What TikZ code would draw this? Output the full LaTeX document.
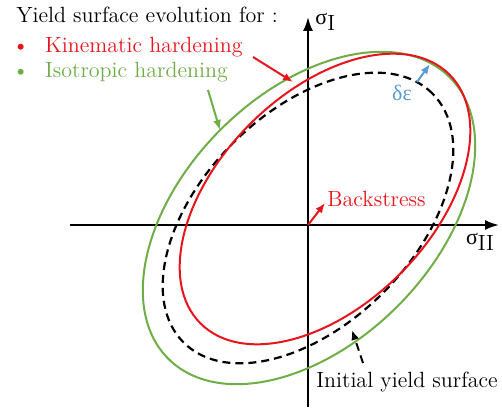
\documentclass[tikz,border=0pt]{standalone}
\usepackage{fontspec}
\newfontfamily\grk{Liberation Serif}
\usetikzlibrary{arrows.meta}
\definecolor{kin}{HTML}{E8141C}
\definecolor{iso}{HTML}{6FAD47}
\definecolor{dstr}{HTML}{5B9BD5}
\begin{document}
\begin{tikzpicture}[x=.5pt,y=.5pt,font=\fontsize{11}{13}\selectfont]
  \useasboundingbox (-308,-182) rectangle (194,225);
  % axes
  \coordinate (o) at (0,0);
  \coordinate (xl) at (-238,0);
  \coordinate (xr) at (191,0);
  \coordinate (yb) at (0,-182);
  \coordinate (yt) at (0,208);
  \draw[-{Latex[length=7pt,width=5pt]},line width=1pt] (xl)--(xr);
  \draw[-{Latex[length=7pt,width=5pt]},line width=1pt] (yb)--(yt);
  \node[anchor=west,inner sep=0pt] (sI) at (7,203){{\grk σ}\raisebox{-.6ex}{I}};
  \node[inner sep=0pt] (sII) at (172,-17){{\grk σ}\raisebox{-.6ex}{II}};
  % yield surfaces
  \draw[iso,line width=1pt,rotate around={45:(1,7)}] (1,7) ellipse [x radius=199,y radius=125];
  \draw[black,line width=1.1pt,dash pattern=on 4pt off 2.5pt,rotate around={45:(0,7)}] (0,7) ellipse [x radius=176,y radius=106];
  \draw[kin,line width=1pt,rotate around={45:(17,26)}] (17,26) ellipse [x radius=176,y radius=106];
  % legend
  \node[anchor=west,inner sep=0pt] (title) at (-292,210){Yield surface evolution for :};
  \node[anchor=west,inner sep=0pt,text=kin] (kinlab) at (-296,178){\textbullet\hspace{8pt}Kinematic hardening};
  \node[anchor=west,inner sep=0pt,text=iso] (isolab) at (-296,153){\textbullet\hspace{8pt}Isotropic hardening};
  \coordinate (kinfrom) at (-55,168);
  \coordinate (kinto) at (-15,143);
  \coordinate (isofrom) at (-100,135);
  \coordinate (isoto) at (-88,95);
  \draw[-{Latex[length=5pt,width=4pt]},kin,line width=1pt] (kinfrom)--(kinto);
  \draw[-{Latex[length=5pt,width=4pt]},iso,line width=1pt] (isofrom)--(isoto);
  % increment
  \coordinate (dfrom) at (109,143);
  \coordinate (dto) at (122,161);
  \draw[-{Latex[length=5pt,width=4pt]},dstr,line width=1pt] (dfrom)--(dto);
  \node[text=dstr,inner sep=0pt] (dlab) at (94,132){\grk δε};
  % backstress
  \coordinate (bto) at (17,22);
  \draw[-{Latex[length=5pt,width=4pt]},kin,line width=1pt] (o)--(bto);
  \node[anchor=west,inner sep=0pt,text=kin] (back) at (19,26){Backstress};
  % initial surface
  \coordinate (ifrom) at (55,-138);
  \coordinate (ito) at (44,-105);
  \draw[-{Latex[length=5pt,width=4pt]},line width=1pt,dash pattern=on 4pt off 2.5pt] (ifrom)--(ito);
  \node[anchor=west,inner sep=0pt] (init) at (8,-157){Initial yield surface};
\end{tikzpicture}
\end{document}
